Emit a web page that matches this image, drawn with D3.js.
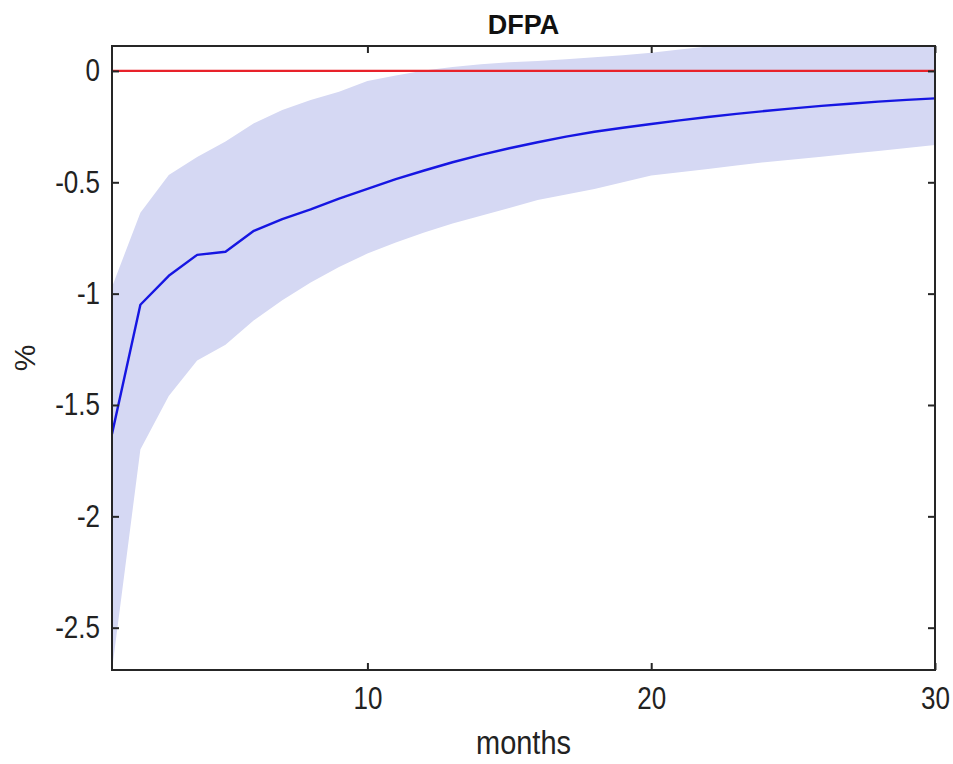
<!DOCTYPE html>
<html>
<head>
<meta charset="utf-8">
<script src="https://cdn.jsdelivr.net/npm/d3@7"></script>
<style>
  html, body { margin: 0; padding: 0; background: #fff; }
  svg { display: block; font-family: "Liberation Sans", Arial, Helvetica, sans-serif; }
</style>
</head>
<body>
<svg id="chart" width="953" height="764"></svg>
<script>
// ---- data ----
const months = [1,2,3,4,5,6,7,8,9,10,11,12,13,14,15,16,17,18,19,20,21,22,23,24,25,26,27,28,29,30];
const median = [-1.63,-1.05,-0.92,-0.826,-0.812,-0.718,-0.665,-0.622,-0.573,-0.530,
                -0.486,-0.447,-0.410,-0.377,-0.347,-0.320,-0.295,-0.273,-0.255,-0.238,
                -0.222,-0.207,-0.193,-0.180,-0.168,-0.157,-0.147,-0.138,-0.130,-0.123];
const upper  = [-0.97,-0.637,-0.467,-0.386,-0.317,-0.235,-0.175,-0.13,-0.093,-0.045,
                -0.02,0.002,0.018,0.030,0.039,0.045,0.052,0.062,0.071,0.082,
                0.096,0.110,0.118,0.124,0.129,0.133,0.138,0.142,0.146,0.150];
const lower  = [-2.69,-1.70,-1.46,-1.30,-1.23,-1.12,-1.03,-0.95,-0.88,-0.82,
                -0.77,-0.725,-0.685,-0.65,-0.615,-0.58,-0.555,-0.53,-0.50,-0.47,
                -0.455,-0.44,-0.425,-0.41,-0.398,-0.385,-0.372,-0.36,-0.346,-0.333];
const zeroLine = [0, 0];
const xTicks = [10, 20, 30];
const yTicks = [0, -0.5, -1, -1.5, -2, -2.5];
const xDomain = [1, 30];
const yDomain = [-2.69, 0.112];
const title = "DFPA";
const xLabel = "months";
const yLabel = "%";

// ---- layout ----
const svg = d3.select("#chart");
const margin = {left: 112, top: 46, right: 18, bottom: 94};
const W = 953 - margin.left - margin.right;
const H = 764 - margin.top - margin.bottom;

const x = d3.scaleLinear().domain(xDomain).range([0, W]);
const y = d3.scaleLinear().domain(yDomain).range([H, 0]);

const g = svg.append("g").attr("transform", `translate(${margin.left},${margin.top})`);

g.append("defs").append("clipPath").attr("id", "clip")
  .append("rect").attr("x", 0).attr("y", 0).attr("width", W).attr("height", H);

const plot = g.append("g").attr("clip-path", "url(#clip)");

const rows = months.map((m, i) => ({m, lo: lower[i], hi: upper[i], med: median[i]}));

plot.append("path").datum(rows)
  .attr("fill", "#d5d8f3")
  .attr("stroke", "none")
  .attr("d", d3.area().x(d => x(d.m)).y0(d => y(d.lo)).y1(d => y(d.hi)));

plot.append("path").datum(xDomain.map((v, i) => [v, zeroLine[i]]))
  .attr("fill", "none").attr("stroke", "#e8222a").attr("stroke-width", 2.2)
  .attr("d", d3.line().x(d => x(d[0])).y(d => y(d[1])));

plot.append("path").datum(rows)
  .attr("fill", "none").attr("stroke", "#1616e2").attr("stroke-width", 2.4)
  .attr("stroke-linejoin", "round")
  .attr("d", d3.line().x(d => x(d.m)).y(d => y(d.med)));

// ---- axes ----
const fmt = d => String(d);
const axisColor = "#262626";
const tk = 7;

const yAxis = g.append("g")
  .call(d3.axisLeft(y).tickValues(yTicks).tickFormat(fmt).tickSize(-tk).tickPadding(12));
const xAxis = g.append("g").attr("transform", `translate(0,${H})`)
  .call(d3.axisBottom(x).tickValues(xTicks).tickFormat(fmt).tickSize(-tk).tickPadding(18));
const yAxisR = g.append("g").attr("transform", `translate(${W},0)`)
  .call(d3.axisRight(y).tickValues(yTicks).tickFormat("").tickSize(-tk));
const xAxisT = g.append("g")
  .call(d3.axisTop(x).tickValues(xTicks).tickFormat("").tickSize(-tk));

[yAxis, xAxis, yAxisR, xAxisT].forEach(a => {
  a.select(".domain").remove();
  a.selectAll(".tick line").attr("stroke", axisColor).attr("stroke-width", 2);
  a.selectAll("text").attr("fill", "#222").attr("font-size", 26)
    .attr("font-family", "'Liberation Sans', Arial, sans-serif");
});
yAxis.selectAll(".tick text").attr("transform", "scale(1,1.2)");
xAxis.selectAll(".tick text").attr("transform", "scale(1,1.2)").attr("y", 14);

g.append("rect").attr("x", 0).attr("y", 0).attr("width", W).attr("height", H)
  .attr("fill", "none").attr("stroke", axisColor).attr("stroke-width", 2);

// ---- labels ----
svg.append("text")
  .attr("x", margin.left + W / 2).attr("y", 34)
  .attr("text-anchor", "middle").attr("font-weight", "bold")
  .attr("font-size", 27).attr("fill", "#111")
  .text(title);

svg.append("text")
  .attr("text-anchor", "middle").attr("font-size", 29).attr("fill", "#222")
  .attr("transform", `translate(${margin.left + W / 2},754) scale(1,1.12)`)
  .text(xLabel);

svg.append("text")
  .attr("text-anchor", "middle").attr("font-size", 30).attr("fill", "#222")
  .attr("transform", `translate(35,358) rotate(-90)`)
  .text(yLabel);
</script>
</body>
</html>
